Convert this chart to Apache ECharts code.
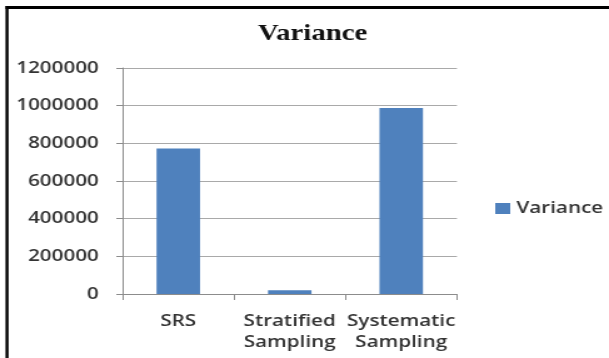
<!DOCTYPE html>
<html>
<head>
<meta charset="utf-8">
<script src="https://cdn.jsdelivr.net/npm/echarts@6/dist/echarts.min.js"></script>
<style>
  html, body { margin: 0; padding: 0; background: #fff; }
  #wrap { width: 609px; height: 358px; overflow: hidden; position: relative; }
  /* the chart is laid out narrow and widened to the page, giving the broad lettering */
  #chart { width: 487px; height: 358px; transform: scaleX(1.2505); transform-origin: 0 0; }
</style>
</head>
<body>
<div id="wrap"><div id="chart"></div></div>
<script>
const categories = ['SRS', 'Stratified Sampling', 'Systematic Sampling'];
const variance = [773000, 20000, 988000];
const seriesName = 'Variance';
const chartTitle = 'Variance';
const yMin = 0, yMax = 1200000, yStep = 200000;

const textFont = '"Open Sans", "Liberation Sans", sans-serif';
const textWeight = 600;
const chart = echarts.init(document.getElementById('chart'), null, { renderer: 'canvas' });

chart.setOption({
  animation: false,
  backgroundColor: '#ffffff',
  title: {
    text: chartTitle,
    left: 250,
    top: 23,
    textAlign: 'center',
    padding: 0,
    textStyle: { fontFamily: '"Liberation Serif", "Times New Roman", serif', fontWeight: 'bold', fontSize: 23, color: '#111' }
  },
  legend: {
    data: [seriesName],
    left: 396,
    top: 200,
    padding: 0,
    icon: 'rect',
    itemWidth: 12,
    itemHeight: 11,
    textStyle: { fontFamily: textFont, fontWeight: textWeight, fontSize: 16.5, color: '#333' }
  },
  grid: { left: 98, right: 121.6, top: 68, bottom: 64, containLabel: false },
  xAxis: {
    type: 'category',
    data: categories,
    axisLine: { lineStyle: { color: '#8c8c8c', width: 1 } },
    axisTick: { show: true, length: 6, lineStyle: { color: '#8c8c8c' } },
    axisLabel: {
      margin: 17,
      fontFamily: textFont, fontWeight: textWeight, fontSize: 16.5, color: '#333', lineHeight: 21,
      interval: 0,
      formatter: v => v.replace(' ', '\n')
    }
  },
  yAxis: {
    type: 'value',
    min: yMin, max: yMax, interval: yStep,
    axisLine: { show: true, lineStyle: { color: '#8c8c8c', width: 1 } },
    axisTick: { show: true, length: 5, lineStyle: { color: '#8c8c8c' } },
    splitLine: { lineStyle: { color: '#a9a9a9', width: 1 } },
    axisLabel: {
      margin: 19, fontFamily: textFont, fontWeight: textWeight, fontSize: 16.5, color: '#333',
      formatter: v => String(v)
    }
  },
  series: [{
    name: seriesName,
    type: 'bar',
    data: variance,
    barCategoryGap: '61%',
    itemStyle: { color: '#4f81bd' }
  }],
  graphic: [
    { type: 'rect', left: 4.4, top: 6, shape: { width: 2.4, height: 360 }, style: { fill: '#000' } },
    { type: 'rect', left: 4.4, top: 6, shape: { width: 500, height: 3 }, style: { fill: '#000' } }
  ]
});
</script>
</body>
</html>
